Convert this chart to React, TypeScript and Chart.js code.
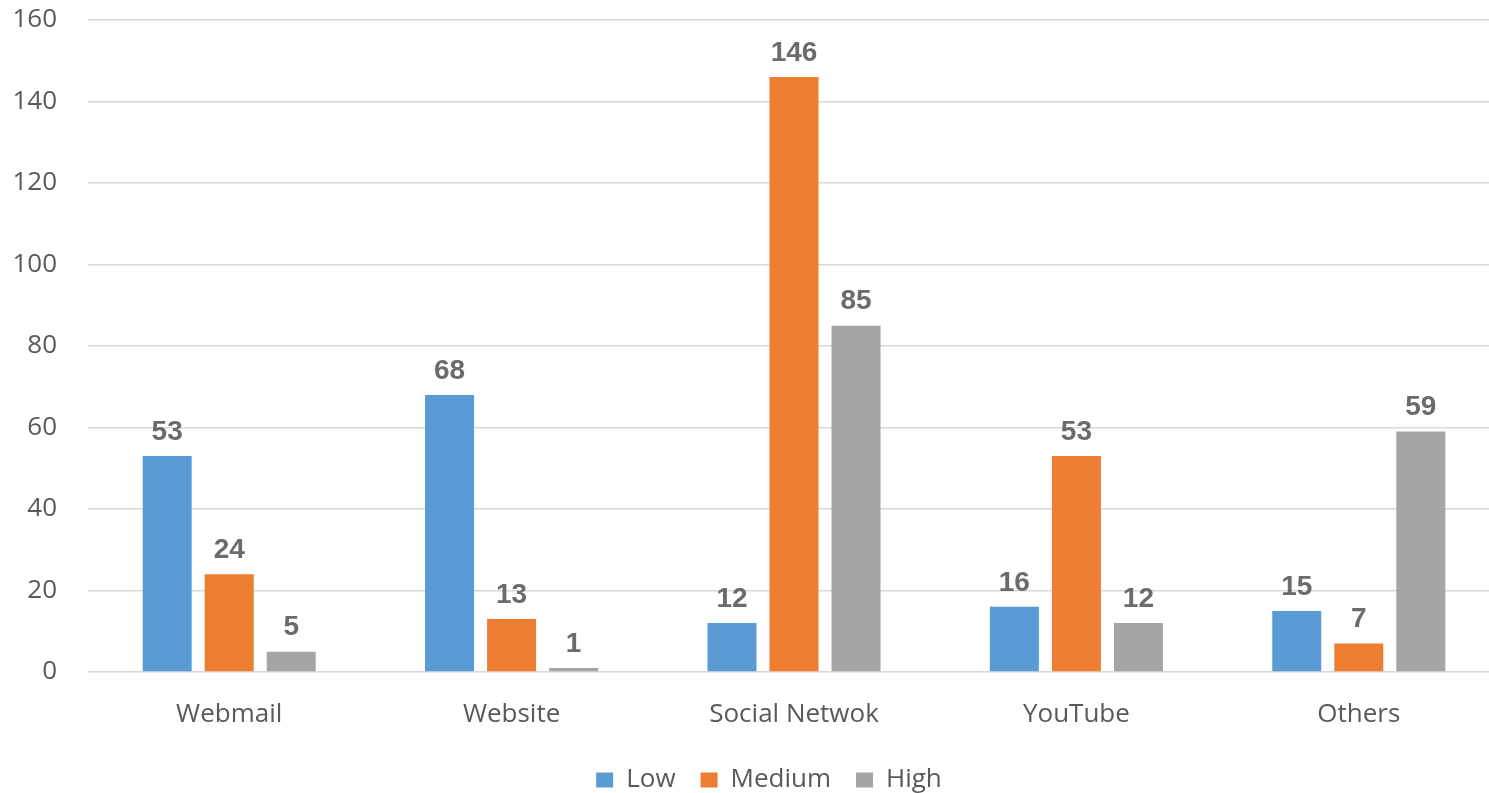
import React, { useEffect, useRef } from "react";
import { Chart, registerables } from "chart.js";

Chart.register(...registerables);

const categories = ["Webmail", "Website", "Social Netwok", "YouTube", "Others"];
const lowValues = [53, 68, 12, 16, 15];
const mediumValues = [24, 13, 146, 53, 7];
const highValues = [5, 1, 85, 12, 59];
const seriesNames = ["Low", "Medium", "High"];
const seriesColors = ["#5B9BD5", "#ED7D31", "#A5A5A5"];

const TEXT_FONT = "'Open Sans', 'Liberation Sans', sans-serif";

const valueLabelPlugin = {
  id: "valueLabels",
  afterDatasetsDraw(chart: any) {
    const ctx = chart.ctx;
    ctx.save();
    ctx.font = "bold 28px 'Liberation Sans', Arial, sans-serif";
    ctx.fillStyle = "#6b6b6b";
    ctx.textAlign = "center";
    ctx.textBaseline = "bottom";
    chart.data.datasets.forEach((ds: any, i: number) => {
      const meta = chart.getDatasetMeta(i);
      meta.data.forEach((bar: any, j: number) => {
        ctx.fillText(String(ds.data[j]), bar.x, bar.y - 10);
      });
    });
    ctx.restore();
  },
};

const legendShiftPlugin = {
  id: "legendShift",
  afterLayout(chart: any) {
    const lg = chart.legend;
    if (lg) {
      lg.left += 19;
      lg.right += 19;
    }
  },
};

export default function App() {
  const canvasRef = useRef<HTMLCanvasElement | null>(null);

  useEffect(() => {
    if (!canvasRef.current) return;
    const chart = new Chart(canvasRef.current, {
      type: "bar",
      data: {
        labels: categories,
        datasets: [
          { label: seriesNames[0], data: lowValues, backgroundColor: seriesColors[0] },
          { label: seriesNames[1], data: mediumValues, backgroundColor: seriesColors[1] },
          { label: seriesNames[2], data: highValues, backgroundColor: seriesColors[2] },
        ],
      },
      options: {
        responsive: false,
        animation: false,
        events: [],
        layout: { padding: { left: 0, right: 0, top: 20, bottom: 0 } },
        datasets: {
          bar: { categoryPercentage: 0.659, barPercentage: 0.79 },
        },
        scales: {
          x: {
            grid: { display: false, drawTicks: false },
            border: { display: false },
            ticks: {
              padding: 27,
              color: "#595959",
              font: { family: TEXT_FONT, size: 26 },
              maxRotation: 0,
              autoSkip: false,
            },
            afterFit(scale: any) {
              scale.height = 70;
            },
          },
          y: {
            min: 0,
            max: 160,
            ticks: {
              stepSize: 20,
              padding: 31,
              color: "#595959",
              font: { family: TEXT_FONT, size: 26 },
            },
            grid: { color: "#d9d9d9", lineWidth: 1.5, drawTicks: false },
            border: { display: false },
            afterFit(scale: any) {
              scale.width = 88;
              scale.paddingTop = 0;
              scale.paddingBottom = 0;
            },
          },
        },
        plugins: {
          legend: {
            position: "bottom",
            labels: {
              boxWidth: 17,
              boxHeight: 15,
              padding: 25,
              color: "#595959",
              font: { family: TEXT_FONT, size: 26 },
            },
          },
          tooltip: { enabled: false },
        },
      },
      plugins: [valueLabelPlugin, legendShiftPlugin],
    });
    return () => chart.destroy();
  }, []);

  return (
    <div
      style={{
        position: "fixed",
        left: 0,
        top: 0,
        width: 1489,
        height: 793,
        overflow: "hidden",
        background: "#ffffff",
      }}
    >
      <canvas ref={canvasRef} width={1500} height={803} style={{ display: "block" }} />
    </div>
  );
}
